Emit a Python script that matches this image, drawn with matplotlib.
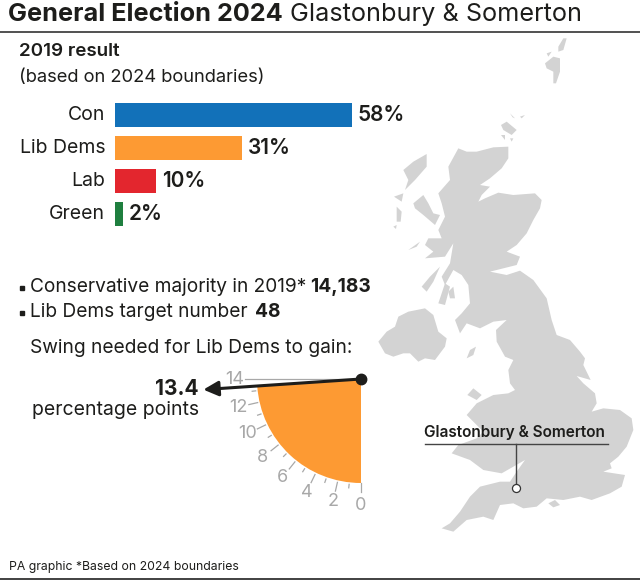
#!/usr/bin/env python3
"""PA election graphic: Glastonbury & Somerton, 2019 result and swing needed."""
import numpy as np
import matplotlib
matplotlib.use("Agg")
import matplotlib.pyplot as plt
from matplotlib.patches import Polygon, Wedge

plt.rcParams["font.family"] = ["Inter", "DejaVu Sans"]

INK = "#1d1d1b"
GAUGE_GREY = "#a8a8a8"
MAP_GREY = "#d3d3d3"

parties = ["Con", "Lib Dems", "Lab", "Green"]
shares = [58, 31, 10, 2]
bar_labels = ["58%", "31%", "10%", "2%"]
party_colors = ["#1271b9", "#fd9a33", "#e3262e", "#1f7f3f"]

swing_needed = 13.4
swing_max = 14
swing_ticks = [0, 2, 4, 6, 8, 10, 12, 14]

# map outlines, traced at 3x scale (offset 370, 30 in image pixels)
great_britain = [
    (265, 355), (290, 365), (320, 365), (370, 352), (415, 350), (415, 385), (395, 415),
    (360, 445), (330, 465), (360, 470), (335, 495), (325, 515), (345, 505), (385, 488),
    (430, 495), (495, 490), (515, 510), (510, 535), (490, 570), (470, 610), (440, 645),
    (410, 665), (450, 680), (440, 705), (400, 715), (360, 725), (410, 735), (450, 722),
    (490, 750), (530, 805), (545, 870), (560, 915), (600, 930), (630, 965), (645, 985),
    (640, 1005), (662, 1050), (620, 1038), (640, 1060), (675, 1090), (680, 1120),
    (665, 1145), (700, 1135), (750, 1140), (785, 1165), (790, 1200), (770, 1250),
    (745, 1280), (720, 1300), (725, 1315), (700, 1325), (765, 1335), (755, 1370),
    (720, 1390), (665, 1410), (630, 1400), (580, 1410), (530, 1405), (500, 1430),
    (460, 1435), (430, 1420), (390, 1425), (370, 1470), (340, 1460), (290, 1470),
    (250, 1505), (215, 1495), (240, 1480), (270, 1445), (300, 1400), (330, 1370),
    (390, 1355), (420, 1355), (440, 1325), (465, 1290), (430, 1310), (395, 1330),
    (340, 1320), (300, 1290), (245, 1270), (265, 1245), (320, 1225), (340, 1205),
    (290, 1155), (320, 1120), (370, 1095), (415, 1090), (435, 1080), (420, 1060),
    (415, 1020), (430, 990), (405, 980), (380, 935), (378, 900), (410, 870), (370, 875),
    (330, 895), (290, 880), (270, 910), (255, 870), (275, 850), (300, 820), (295, 765),
    (275, 735), (250, 720), (225, 765), (215, 740), (240, 700), (250, 640), (225, 680),
    (165, 685), (190, 665), (165, 645), (175, 625), (215, 625), (205, 600), (225, 560),
    (215, 520), (205, 490), (240, 450), (235, 410),
]
islands = [
    # Northern Ireland
    [(25, 935), (50, 905), (75, 890), (85, 860), (115, 845), (165, 835), (190, 855),
     (205, 905), (230, 925), (225, 950), (195, 990), (165, 985), (145, 995), (120, 970),
     (100, 970), (70, 980), (45, 970)],
    # Man, Anglesey, Wight
    [(290, 985), (300, 960), (318, 950), (310, 975)],
    [(292, 1095), (310, 1075), (335, 1095), (320, 1110)],
    [(535, 1420), (555, 1410), (570, 1425), (550, 1432)],
    # Hebrides
    [(100, 420), (130, 395), (170, 372), (170, 410), (135, 450), (105, 480), (115, 450)],
    [(72, 500), (100, 490), (95, 515)],
    [(80, 530), (95, 545), (92, 575), (80, 575)],
    [(70, 590), (80, 585), (78, 597)],
    [(130, 520), (160, 495), (175, 520), (190, 550), (210, 555), (195, 585), (160, 555),
     (135, 535)],
    [(155, 770), (180, 740), (210, 710), (190, 755), (170, 785)],
    [(205, 820), (225, 760), (240, 770), (225, 825)],
    [(235, 785), (250, 770), (255, 805), (240, 805)],
    [(115, 660), (150, 635), (140, 650)],
    # Orkney
    [(393, 285), (410, 275), (440, 300), (425, 315), (400, 300)],
    [(392, 315), (405, 315), (405, 330)],
    [(420, 325), (430, 325), (425, 335)],
    [(420, 250), (435, 265), (428, 262)],
    [(450, 260), (465, 255), (455, 265)],
    # Shetland
    [(525, 100), (550, 80), (570, 85), (570, 125), (558, 160), (550, 160), (550, 125),
     (530, 115)],
    [(530, 70), (545, 65), (535, 80)],
    [(565, 50), (580, 25), (590, 25), (580, 60), (565, 65)],
]


def to_px(points):
    return [(x / 3 + 370, y / 3 + 30) for x, y in points]


fig = plt.figure(figsize=(6.4, 5.82), dpi=100)
ax = fig.add_axes([0, 0, 1, 1])
ax.set_xlim(0, 640)
ax.set_ylim(582, 0)
ax.axis("off")

# header
ax.text(8, 14.5, "General Election 2024", fontsize=18.2, fontweight="bold", color=INK, va="center")
ax.text(290, 14.5, "Glastonbury & Somerton", fontsize=18.2, color=INK, va="center")
ax.plot([0, 640], [31.5, 31.5], color="#333333", lw=1.2)

# map
ax.add_patch(Polygon(to_px(great_britain), closed=True, fc=MAP_GREY, ec="none"))
for isl in islands:
    ax.add_patch(Polygon(to_px(isl), closed=True, fc=MAP_GREY, ec="none"))

ax.text(424, 433, "Glastonbury & Somerton", fontsize=11.1, fontweight="semibold", color=INK, va="center")
ax.plot([425, 608], [444, 444], color="#444444", lw=1)
ax.plot([515.5, 515.5], [444, 484], color="#444444", lw=1)
ax.plot([515.5], [488], "o", ms=5.8, mfc="white", mec="#333333", mew=0.9)

# 2019 result
ax.text(19, 52, "2019 result", fontsize=13.5, fontweight="semibold", color=INK, va="center")
ax.text(19, 78, "(based on 2024 boundaries)", fontsize=13.2, color=INK, va="center")

bar_ax = fig.add_axes([115 / 640, 1 - 230 / 582, 300 / 640, 130 / 582])
bar_ax.set_xlim(0, 300 / 4.09)
bar_ax.set_ylim(3.485, -0.455)
bar_ax.axis("off")
bar_ax.barh(range(len(parties)), shares, height=0.71, color=party_colors)
for i, (party, lab, val) in enumerate(zip(parties, bar_labels, shares)):
    bar_ax.text(-2.4, i, party, ha="right", va="center", fontsize=14, color=INK)
    bar_ax.text(val + 1.4, i, lab, ha="left", va="center", fontsize=15, fontweight="semibold", color=INK)

# bullets
for y in [287, 312]:
    ax.plot([22], [y + 1], "s", ms=2.4, color=INK)
ax.text(30, 287, "Conservative majority in 2019*", fontsize=13.75, color=INK, va="center")
ax.text(310, 287, "14,183", fontsize=13.75, fontweight="bold", color=INK, va="center")
ax.text(30, 312, "Lib Dems target number", fontsize=13.75, color=INK, va="center")
ax.text(255, 312, "48", fontsize=13.75, fontweight="bold", color=INK, va="center")
ax.text(30, 348, "Swing needed for Lib Dems to gain:", fontsize=13.8, color=INK, va="center")

# gauge: 0 points straight down, 14 points straight left
cx, cy = 361, 379
radius = 104


def gauge_xy(val, r):
    a = np.radians(val / swing_max * 90)
    return cx - r * np.sin(a), cy + r * np.cos(a)


# y axis is inverted, so wedge angles run clockwise on screen
ax.add_patch(Wedge((cx, cy), radius, 90, 90 + swing_needed / swing_max * 90, fc="#fd9a33", ec="none"))
for val in range(swing_max + 1):
    if val == swing_max:
        r0, r1 = 0, 116
    elif val == 0:
        r0, r1 = 104, 113
    elif val % 2 == 0:
        r0, r1 = 106, 115
    else:
        r0, r1 = 106, 109.5
    x0, y0 = gauge_xy(val, r0)
    x1, y1 = gauge_xy(val, r1)
    ax.plot([x0, x1], [y0, y1], color=GAUGE_GREY, lw=0.9, zorder=1)
for val in swing_ticks:
    x, y = gauge_xy(val, 126)
    ax.text(x, y, str(val), ha="center", va="center", fontsize=13, color=GAUGE_GREY)

tip_x, tip_y = gauge_xy(swing_needed, 158)
ax.annotate("", xy=(tip_x, tip_y), xytext=(cx, cy),
            arrowprops=dict(arrowstyle="-|>,head_length=0.9,head_width=0.45", color=INK, lw=2.2,
                            shrinkA=0, shrinkB=0))
ax.plot([cx], [cy], "o", ms=7.5, color=INK)
ax.text(198, 389, "13.4", ha="right", va="center", fontsize=15, fontweight="bold", color=INK)
ax.text(199, 410, "percentage points", ha="right", va="center", fontsize=14, color=INK)

# footer
ax.text(9, 567, "PA graphic *Based on 2024 boundaries", fontsize=8.8, color=INK, va="center")
ax.plot([0, 640], [579, 579], color="#333333", lw=1.3)

fig.savefig("out.png", dpi=100)
